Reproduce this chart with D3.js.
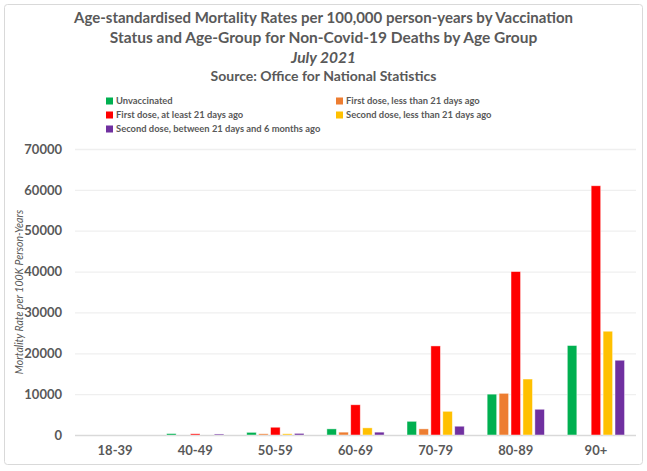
<!DOCTYPE html>
<html><head><meta charset="utf-8">
<script src="https://cdn.jsdelivr.net/npm/d3@7"></script>
<style>
html,body{margin:0;padding:0;background:#fff;}
svg{display:block;font-family:Lato,"Open Sans",sans-serif;}
</style></head>
<body><svg id="c" width="647" height="471"></svg>
<script>
const categories = ["18-39","40-49","50-59","60-69","70-79","80-89","90+"];
const seriesNames = ["Unvaccinated","First dose, less than 21 days ago","First dose, at least 21 days ago","Second dose, less than 21 days ago","Second dose, between 21 days and 6 months ago"];
const seriesColors = ["#00B050","#ED7D31","#FF0000","#FFC000","#7030A0"];
const unvaccinated   = [0, 350, 650, 1500, 3350, 10000, 21900];
const firstDoseLt21  = [0, 0, 300, 700, 1500, 10200, 0];
const firstDoseGe21  = [0, 300, 1900, 7400, 21800, 40000, 61000];
const secondDoseLt21 = [0, 0, 300, 1750, 5800, 13700, 25400];
const secondDose21to6m = [0, 250, 400, 700, 2150, 6300, 18300];
const yTicks = [0,10000,20000,30000,40000,50000,60000,70000];
const titleLines = ["Age-standardised Mortality Rates per 100,000 person-years by Vaccination","Status and Age-Group for Non-Covid-19 Deaths by Age Group","July 2021","Source:  Office for National Statistics"];
const yTitle = "Mortality Rate per 100K Person-Years";

const series = [unvaccinated, firstDoseLt21, firstDoseGe21, secondDoseLt21, secondDose21to6m];
const svg = d3.select("#c");
const grey = "#595959";

svg.append("rect").attr("x",4.5).attr("y",4.5).attr("width",638).attr("height",460)
  .attr("rx",3).attr("fill","#fff").attr("stroke","#d9d9d9");

// title
const tl = svg.append("g").attr("fill",grey).attr("text-anchor","middle");
const tY = [23, 42.5, 62.5, 81];
const tS = [15, 15.5, 15.5, 14];
titleLines.forEach((t,i)=>{
  tl.append("text").attr("x",323.5).attr("y",tY[i]).attr("font-size",tS[i])
    .attr("font-weight","bold").attr("font-style", i===2?"italic":"normal").text(t);
});

// legend
const legPos = [[106,101],[336,101],[106,115],[336,115],[106,129]];
const lg = svg.append("g");
seriesNames.forEach((n,i)=>{
  const [x,y] = legPos[i];
  lg.append("rect").attr("x",x).attr("y",y-3.5).attr("width",7).attr("height",7).attr("fill",seriesColors[i]);
  lg.append("text").attr("x",x+10).attr("y",y+3.2).attr("font-size",9.4).attr("font-weight","bold")
    .attr("fill",grey).text(n);
});

const x0 = d3.scaleBand().domain(categories).range([75,636]).paddingInner(0.226).paddingOuter(0.113);
const x1 = d3.scaleBand().domain(d3.range(5)).range([0,x0.bandwidth()]).padding(0.2);
const y = d3.scaleLinear().domain([0,70000]).range([435,149]);

// grid
svg.append("g").selectAll("line").data(yTicks).join("line")
  .attr("x1",75).attr("x2",636).attr("y1",d=>y(d)+0.5).attr("y2",d=>y(d)+0.5)
  .attr("stroke",d=>d===0?"#d9d9d9":"#efefef").attr("stroke-width",1.3);

// y axis
const ya = svg.append("g").attr("transform","translate(62,0)")
  .call(d3.axisLeft(y).tickValues(yTicks).tickFormat(d3.format("d")).tickSize(0).tickPadding(0));
ya.select(".domain").remove();
ya.selectAll("text").attr("font-size",13).attr("font-weight","bold").attr("fill",grey)
  .attr("font-family","Lato,'Open Sans',sans-serif");

// x axis
const xa = svg.append("g").attr("transform","translate(0,446)")
  .call(d3.axisBottom(x0).tickSize(0).tickPadding(0));
xa.select(".domain").remove();
xa.selectAll("text").attr("font-size",13).attr("font-weight","bold").attr("fill",grey)
  .attr("font-family","Lato,'Open Sans',sans-serif");

// y title
svg.append("text").attr("transform","translate(23,292) rotate(-90)").attr("text-anchor","middle")
  .attr("font-size",10.5).attr("font-style","italic").attr("fill",grey).text(yTitle);

// bars
const g = svg.append("g");
categories.forEach((c,ci)=>{
  series.forEach((s,si)=>{
    const v = s[ci];
    if(!v) return;
    g.append("rect").attr("x",x0(c)+x1(si)).attr("width",x1.bandwidth())
      .attr("y",y(v)).attr("height",y(0)-y(v))
      .attr("fill",seriesColors[si]).attr("stroke","#fff").attr("stroke-opacity",0.6).attr("stroke-width",0.75);
  });
});
</script></body></html>
